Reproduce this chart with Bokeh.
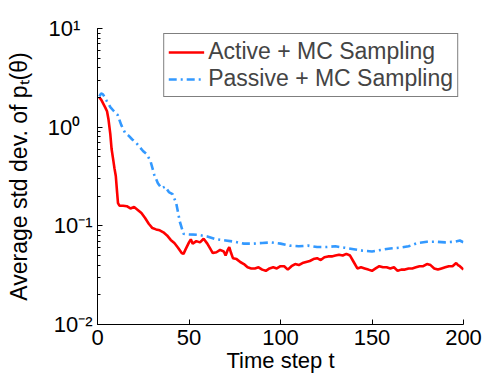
from bokeh.plotting import figure
from bokeh.models import FixedTicker, LogTicker, Legend, LegendItem, Range1d
from bokeh.embed import file_html
from bokeh.resources import INLINE

# ---- data ----
active_t = [1, 2, 3, 4.4, 5.2, 6, 7, 7.7, 8.5, 9.3, 10, 10.7, 11.2, 12, 14, 16, 18, 20,
            22, 24, 26, 28, 30, 32, 34, 36, 38, 40, 42, 44, 46, 47, 48, 50, 51, 52, 54,
            56, 58, 60, 62, 63, 65, 67, 69, 70, 71, 72, 73, 74, 76, 78, 80, 82, 84, 86,
            88, 90, 92, 94, 96, 98, 100, 102, 104, 106, 108, 110, 112, 114, 116, 118,
            120, 122, 124, 126, 128, 130, 132, 134, 136, 138, 140, 142, 144, 146, 148,
            150, 152, 154, 156, 158, 160, 162, 164, 166, 168, 170, 172, 174, 176, 178,
            180, 182, 184, 186, 188, 190, 192, 194, 196, 197, 198, 200]
active_v = [2.0, 1.9, 1.75, 1.56, 1.45, 1.2, 0.85, 0.6, 0.48, 0.38, 0.32, 0.22, 0.17,
            0.16, 0.16, 0.158, 0.15, 0.155, 0.145, 0.135, 0.12, 0.105, 0.095, 0.092,
            0.09, 0.086, 0.08, 0.072, 0.067, 0.06, 0.053, 0.052, 0.057, 0.068, 0.073,
            0.066, 0.07, 0.068, 0.074, 0.066, 0.057, 0.053, 0.054, 0.057, 0.055, 0.05,
            0.056, 0.061, 0.053, 0.047, 0.046, 0.043, 0.041, 0.038, 0.037, 0.037, 0.038,
            0.036, 0.035, 0.037, 0.038, 0.037, 0.039, 0.039, 0.036, 0.039, 0.041, 0.040,
            0.042, 0.043, 0.044, 0.046, 0.047, 0.045, 0.048, 0.049, 0.049, 0.050, 0.051,
            0.050, 0.052, 0.050, 0.043, 0.037, 0.038, 0.037, 0.036, 0.035, 0.037, 0.039,
            0.038, 0.038, 0.037, 0.038, 0.035, 0.036, 0.036, 0.037, 0.037, 0.038, 0.039,
            0.039, 0.041, 0.040, 0.037, 0.036, 0.037, 0.038, 0.039, 0.039, 0.042, 0.040,
            0.039, 0.036]

passive_t = [1, 2, 3, 5, 7, 9, 11, 13, 15, 17, 19, 21, 23, 25, 27, 29, 31, 33, 35, 37,
             39, 41, 43, 45, 47, 50, 55, 60, 65, 70, 75, 80, 85, 90, 95, 100, 105, 110,
             115, 120, 125, 130, 135, 140, 145, 150, 155, 160, 165, 170, 175, 180, 185,
             190, 195, 198, 200]
passive_v = [2.05, 2.2, 2.15, 1.85, 1.6, 1.45, 1.33, 1.05, 0.88, 0.82, 0.75, 0.7, 0.63,
             0.57, 0.53, 0.45, 0.33, 0.27, 0.24, 0.25, 0.22, 0.21, 0.17, 0.11, 0.083,
             0.082, 0.081, 0.078, 0.073, 0.071, 0.069, 0.066, 0.066, 0.067, 0.068, 0.066,
             0.063, 0.062, 0.063, 0.061, 0.061, 0.062, 0.060, 0.058, 0.056, 0.055, 0.057,
             0.059, 0.060, 0.062, 0.067, 0.069, 0.069, 0.068, 0.069, 0.071, 0.068]

x_ticks = [0, 50, 100, 150, 200]
y_ticks = [0.01, 0.1, 1, 10]
y_tick_labels = ["10\u207b\u00b2", "10\u207b\u00b9", "10\u2070  ", "10\u00b9  "]
series_labels = ["Active + MC Sampling", "Passive + MC Sampling"]
x_title = "Time step t"
y_title = "Average std dev. of p\u209c(\u03b8)"

FONT = "Liberation Sans"

p = figure(width=485, height=375, y_axis_type="log",
           x_range=Range1d(0, 200), y_range=Range1d(0.01, 10),
           output_backend="svg", toolbar_location=None,
           min_border_left=97, min_border_right=22,
           min_border_top=28, min_border_bottom=49)
p.outline_line_color = None
p.xgrid.visible = False
p.ygrid.visible = False

r_active = p.line(active_t, active_v, line_color="#ff0000", line_width=2.6)
r_passive = p.line(passive_t, passive_v, line_color="#3399ff", line_width=2.6,
                   line_dash="8 4 2 4")

# x axis
p.xaxis.ticker = FixedTicker(ticks=x_ticks)
p.xaxis.major_tick_in = 5
p.xaxis.major_tick_out = 0
p.xaxis.minor_tick_line_color = None
p.xaxis.major_label_text_font = FONT
p.xaxis.major_label_text_font_size = "22px"
p.xaxis.major_label_text_color = "black"
p.xaxis.major_label_standoff = 5
p.xaxis.axis_label = x_title
p.xaxis.axis_label_text_font = FONT
p.xaxis.axis_label_text_font_size = "22px"
p.xaxis.axis_label_text_font_style = "normal"
p.xaxis.axis_label_text_color = "black"
p.xaxis.axis_label_text_line_height = 0.75
p.xaxis.axis_label_standoff = 0

# y axis
p.yaxis.ticker = LogTicker(num_minor_ticks=10)
p.yaxis.major_tick_in = 5
p.yaxis.major_tick_out = 0
p.yaxis.minor_tick_in = 3
p.yaxis.minor_tick_out = 0
p.yaxis.major_label_overrides = {t: s for t, s in zip(y_ticks, y_tick_labels)}
p.yaxis.major_label_text_font = FONT
p.yaxis.major_label_text_font_size = "22px"
p.yaxis.major_label_text_color = "black"
p.yaxis.major_label_standoff = 5
p.yaxis.axis_label = y_title
p.yaxis.axis_label_text_font = FONT
p.yaxis.axis_label_text_font_size = "23px"
p.yaxis.axis_label_text_font_style = "normal"
p.yaxis.axis_label_text_color = "black"
p.yaxis.axis_label_standoff = 13

for ax in (p.xaxis[0], p.yaxis[0]):
    ax.axis_line_color = "black"
    ax.major_tick_line_color = "black"
p.yaxis.minor_tick_line_color = "black"

legend = Legend(items=[LegendItem(label=series_labels[0], renderers=[r_active]),
                       LegendItem(label=series_labels[1], renderers=[r_passive])],
                location="top_right", margin=5, padding=4, spacing=0,
                glyph_width=36, glyph_height=24, label_height=24, label_standoff=4,
                label_text_font=FONT, label_text_font_size="23px",
                label_text_line_height=1.0,
                border_line_color="black", border_line_width=1,
                background_fill_color="white", background_fill_alpha=1)
p.add_layout(legend)

open("out.html", "w").write(file_html(p, INLINE))
